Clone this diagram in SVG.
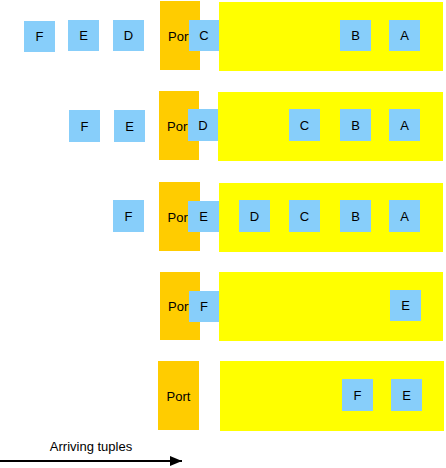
<svg xmlns="http://www.w3.org/2000/svg" width="446" height="468" viewBox="0 0 446 468">
<defs>
<style>
.port{fill:#FFCC00;}
.buf{fill:#FFFF00;}
.t{fill:#87CEFA;}
text{font-family:"Liberation Sans",Arial,sans-serif;font-size:13px;fill:#000;}
.c{text-anchor:middle;dominant-baseline:central;}
</style>
<marker id="ah" markerWidth="6" markerHeight="5" refX="6" refY="2.5" orient="auto" markerUnits="strokeWidth">
<path d="M0,0 L6,2.5 L0,5 Z" fill="#000"/>
</marker>
</defs>
<rect width="446" height="468" fill="#fff"/>

<g id="row1">
<rect class="port" x="160" y="1" width="40" height="69"/>
<text class="c" x="180" y="36">Port</text>
<rect class="buf" x="219" y="2" width="224" height="69"/>
<g id="r1F"><rect class="t" x="24" y="21" width="31" height="31"/><text class="c" x="39.5" y="36.5">F</text></g>
<g id="r1E"><rect class="t" x="68" y="20" width="31" height="31"/><text class="c" x="83.5" y="35.5">E</text></g>
<g id="r1D"><rect class="t" x="113" y="20" width="31" height="31"/><text class="c" x="128.5" y="35.5">D</text></g>
<g id="r1C"><rect class="t" x="189" y="20" width="30" height="31"/><text class="c" x="204" y="35.5">C</text></g>
<g id="r1B"><rect class="t" x="340" y="20" width="31" height="31"/><text class="c" x="355.5" y="35.5">B</text></g>
<g id="r1A"><rect class="t" x="389" y="20" width="31" height="31"/><text class="c" x="404.5" y="35.5">A</text></g>
</g>

<g id="row2">
<rect class="port" x="159" y="91" width="40" height="69"/>
<text class="c" x="179" y="126">Port</text>
<rect class="buf" x="218" y="92" width="225" height="69"/>
<g id="r2F"><rect class="t" x="69" y="110" width="31" height="32"/><text class="c" x="84.5" y="126">F</text></g>
<g id="r2E"><rect class="t" x="114" y="110" width="31" height="32"/><text class="c" x="129.5" y="126">E</text></g>
<g id="r2D"><rect class="t" x="188" y="109" width="30" height="32"/><text class="c" x="203" y="125">D</text></g>
<g id="r2C"><rect class="t" x="289" y="109" width="31" height="32"/><text class="c" x="304.5" y="125">C</text></g>
<g id="r2B"><rect class="t" x="340" y="109" width="31" height="32"/><text class="c" x="355.5" y="125">B</text></g>
<g id="r2A"><rect class="t" x="389" y="109" width="31" height="32"/><text class="c" x="404.5" y="125">A</text></g>
</g>

<g id="row3">
<rect class="port" x="159" y="182" width="41" height="69"/>
<text class="c" x="179.5" y="217">Port</text>
<rect class="buf" x="219" y="183" width="224" height="69"/>
<g id="r3F"><rect class="t" x="113" y="200" width="31" height="32"/><text class="c" x="128.5" y="216">F</text></g>
<g id="r3E"><rect class="t" x="188" y="201" width="31" height="31"/><text class="c" x="203.5" y="216.5">E</text></g>
<g id="r3D"><rect class="t" x="239" y="200" width="31" height="32"/><text class="c" x="254.5" y="216">D</text></g>
<g id="r3C"><rect class="t" x="289" y="200" width="31" height="32"/><text class="c" x="304.5" y="216">C</text></g>
<g id="r3B"><rect class="t" x="340" y="200" width="31" height="32"/><text class="c" x="355.5" y="216">B</text></g>
<g id="r3A"><rect class="t" x="389" y="200" width="31" height="32"/><text class="c" x="404.5" y="216">A</text></g>
</g>

<g id="row4">
<rect class="port" x="160" y="272" width="40" height="68"/>
<text class="c" x="180" y="306">Port</text>
<rect class="buf" x="219" y="272" width="224" height="69"/>
<g id="r4F"><rect class="t" x="189" y="291" width="30" height="31"/><text class="c" x="204" y="306.5">F</text></g>
<g id="r4E"><rect class="t" x="390" y="290" width="31" height="31"/><text class="c" x="405.5" y="305.5">E</text></g>
</g>

<g id="row5">
<rect class="port" x="158" y="361" width="41" height="69"/>
<text class="c" x="178.5" y="396">Port</text>
<rect class="buf" x="220" y="361" width="224" height="70"/>
<g id="r5F"><rect class="t" x="342" y="379" width="31" height="32"/><text class="c" x="357.5" y="395">F</text></g>
<g id="r5E"><rect class="t" x="391" y="379" width="31" height="32"/><text class="c" x="406.5" y="395">E</text></g>
</g>

<g id="connectors">
<line x1="0" y1="461" x2="182" y2="461" stroke="#000" stroke-width="2" marker-end="url(#ah)"/>
</g>
<text x="91" y="451" text-anchor="middle" font-size="13.5">Arriving tuples</text>
</svg>
